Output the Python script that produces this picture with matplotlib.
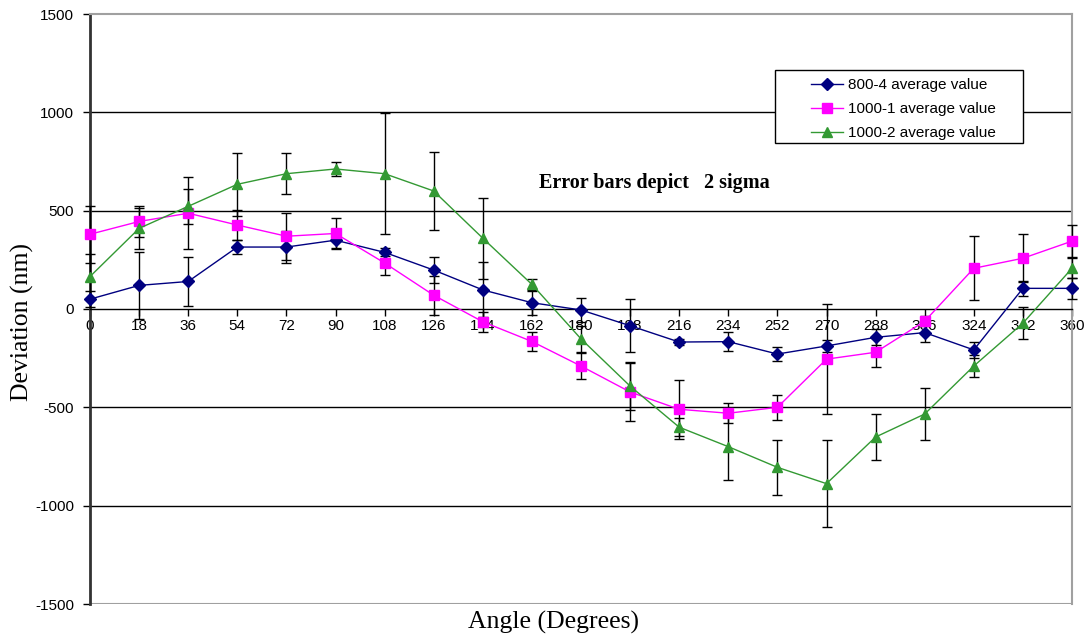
import matplotlib
matplotlib.use("Agg")
import matplotlib.pyplot as plt
from matplotlib.patches import Rectangle

plt.rcParams["axes.unicode_minus"] = False

# angle positions (degrees)
angles = [0, 18, 36, 54, 72, 90, 108, 126, 144, 162, 180,
          198, 216, 234, 252, 270, 288, 306, 324, 342, 360]

# 800-4 average value
s800_4 = [50, 120, 140, 315, 315, 350, 288, 198, 97, 32, -5,
          -85, -168, -166, -229, -188, -144, -120, -208, 105, 105]
s800_4_err = [40, 170, 125, 35, 80, 40, 20, 68, 140, 60, 60,
              135, 15, 50, 37, 30, 40, 50, 42, 38, 52]

# 1000-1 average value
s1000_1 = [380, 445, 487, 427, 370, 384, 234, 70, -65, -165, -290,
           -422, -510, -530, -500, -255, -220, -62, 207, 258, 345]
s1000_1_err = [145, 78, 182, 78, 120, 80, 60, 100, 50, 47, 65,
               145, 150, 50, 65, 280, 75, 25, 163, 123, 82]

# 1000-2 average value
s1000_2 = [165, 410, 522, 634, 688, 712, 688, 600, 360, 125, -152,
           -392, -601, -700, -805, -888, -651, -534, -290, -72, 207]
s1000_2_err = [115, 105, 90, 160, 105, 37, 308, 200, 205, 30, 65,
               120, 45, 170, 140, 220, 115, 130, 55, 82, 50]

yticks = [-1500, -1000, -500, 0, 500, 1000, 1500]

W, H = 1092, 643
fig = plt.figure(figsize=(W / 100, H / 100), dpi=100)
ax = fig.add_axes([90 / W, 1 - 604 / H, (1072 - 90) / W, (604 - 14) / H])

# horizontal grid lines (black, like the original)
for v in [-1000, -500, 500, 1000]:
    ax.axhline(v, color="black", lw=1.0, zorder=1)
ax.axhline(-1500, color="#a0a0a0", lw=1.5, zorder=1)

series = [
    (s800_4, s800_4_err, "#000080", "D", 6.5, "800-4 average value"),
    (s1000_1, s1000_1_err, "#ff00ff", "s", 7.5, "1000-1 average value"),
    (s1000_2, s1000_2_err, "#339933", "^", 7.5, "1000-2 average value"),
]
for vals, err, col, mk, ms, lab in series:
    ax.errorbar(angles, vals, yerr=err, fmt="none", ecolor="black",
                elinewidth=1.0, capsize=3.5, capthick=1.0, zorder=3, clip_on=False)
    ax.plot(angles, vals, color=col, marker=mk, markersize=ms, lw=1.0,
            label=lab, zorder=4, clip_on=False)

ax.set_xlim(0, 360)
ax.set_ylim(-1500, 1500)
ax.set_xticks(angles)
ax.set_yticks(yticks)

ax.spines["bottom"].set_position(("data", 0))
ax.spines["bottom"].set_color("black")
ax.spines["bottom"].set_linewidth(1.0)
ax.spines["left"].set_color("#333333")
ax.spines["left"].set_linewidth(2.0)
for s in ["top", "right"]:
    ax.spines[s].set_color("#a0a0a0")
    ax.spines[s].set_linewidth(1.5)

ax.tick_params(axis="both", direction="out", length=5, width=1,
               labelsize=11, color="black")
ax.tick_params(axis="x", pad=2)
ax.tick_params(axis="y", pad=6.5)
for lbl in ax.get_xticklabels() + ax.get_yticklabels():
    lbl.set_family("Liberation Sans")

ax.text(207, 641, "Error bars depict   2 sigma", family="Liberation Serif",
        fontweight="bold", fontsize=14.5, ha="center", va="center")

fig.text(22 / W, 1 - 322 / H, "Deviation (nm)", family="Liberation Serif",
         fontsize=18.5, rotation=90, ha="center", va="center")
fig.text(554 / W, 1 - 622 / H, "Angle (Degrees)", family="Liberation Serif",
         fontsize=18.5, ha="center", va="center")

# legend: entries without frame, box drawn separately (Excel style padding)
box = Rectangle((775 / W, 1 - 143 / H), (1023 - 775) / W, 73 / H,
                transform=fig.transFigure, facecolor="white",
                edgecolor="black", lw=1.0, zorder=5, clip_on=False)
ax.add_patch(box)
leg = ax.legend(loc="upper left", bbox_to_anchor=(811 / W, 1 - 78 / H),
                bbox_transform=fig.transFigure, borderaxespad=0,
                prop={"family": "Liberation Sans", "size": 11},
                frameon=False, handlelength=2.1, handletextpad=0.35,
                labelspacing=0.67, borderpad=0.0)
leg.set_zorder(6)

fig.savefig("out.png", dpi=100)
